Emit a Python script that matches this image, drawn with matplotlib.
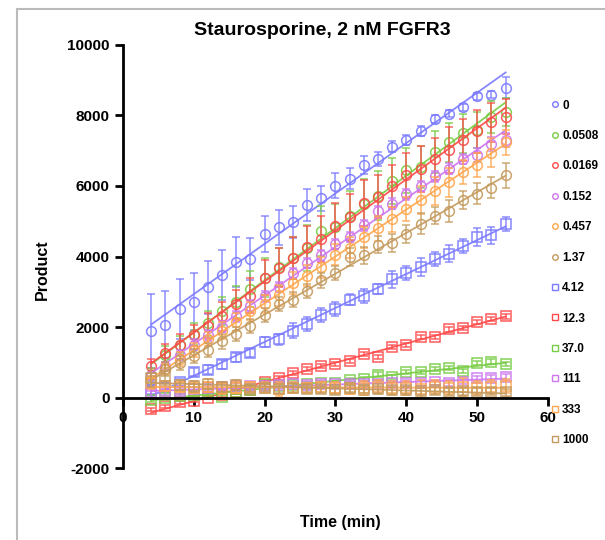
import numpy as np
import matplotlib
matplotlib.use("Agg")
import matplotlib.pyplot as plt
from matplotlib.patches import Rectangle

plt.rcParams["font.family"] = ["Liberation Sans", "DejaVu Sans"]
plt.rcParams["font.weight"] = "bold"
plt.rcParams["axes.unicode_minus"] = False

# === Daten ===
time = [4, 6, 8, 10, 12, 14, 16, 18, 20, 22, 24, 26, 28, 30, 32, 34, 36, 38, 40, 42, 44, 46, 48, 50, 52, 54]

labels = ["0", "0.0508", "0.0169", "0.152", "0.457", "1.37",
          "4.12", "12.3", "37.0", "111", "333", "1000"]

c_0 = [1880, 2070, 2500, 2720, 3130, 3480, 3840, 3930, 4640, 4830, 4970, 5470, 5650,
       6010, 6210, 6600, 6770, 7120, 7310, 7560, 7900, 8050, 8240, 8540, 8590, 8790]
e_0 = [1050, 950, 850, 800, 750, 700, 700, 600, 500, 500, 450, 450, 350,
       350, 300, 250, 200, 150, 150, 150, 100, 100, 100, 100, 100, 300]

c_0508 = [650, 1200, 1500, 1800, 2100, 2450, 2700, 3080, 3400, 3700, 3950, 4250, 4720,
          4850, 5150, 5490, 5730, 6140, 6440, 6540, 6960, 7240, 7500, 7590, 7950, 8090]
e_0508 = [200, 250, 250, 300, 350, 400, 450, 500, 550, 550, 600, 650, 700,
          650, 700, 700, 700, 650, 650, 600, 600, 550, 550, 500, 450, 400]

c_0169 = [890, 1260, 1500, 1760, 2040, 2300, 2640, 2890, 3400, 3680, 3950, 4260, 4500,
          4860, 5130, 5520, 5700, 6000, 6300, 6490, 6770, 7030, 7310, 7550, 7810, 7970]
e_0169 = [200, 250, 300, 300, 350, 400, 400, 500, 500, 550, 600, 600, 650,
          650, 650, 650, 600, 600, 650, 650, 600, 650, 600, 600, 550, 500]

c_152 = [620, 890, 1220, 1500, 1760, 2010, 2300, 2610, 2870, 3130, 3530, 3810, 4030,
         4360, 4550, 4880, 5290, 5500, 5760, 6000, 6270, 6490, 6770, 6870, 7190, 7310]
e_152 = [100, 120, 120, 150, 150, 150, 150, 150, 150, 150, 150, 150, 150,
         150, 150, 150, 150, 150, 150, 150, 150, 150, 150, 200, 200, 200]

c_457 = [450, 800, 1100, 1350, 1650, 1900, 2150, 2450, 2650, 2900, 3250, 3450, 3700,
         4050, 4250, 4550, 4800, 5050, 5350, 5600, 5850, 6100, 6400, 6600, 6950, 7240]
e_457 = [150, 150, 200, 200, 200, 250, 250, 250, 250, 300, 300, 300, 300,
         300, 300, 300, 350, 350, 350, 400, 400, 400, 350, 350, 400, 350]

c_137 = [500, 800, 980, 1190, 1360, 1590, 1810, 2040, 2330, 2660, 2780, 3020, 3320,
         3530, 3980, 4030, 4340, 4390, 4640, 4930, 5160, 5290, 5610, 5780, 5950, 6300]
e_137 = [200, 200, 200, 200, 200, 200, 200, 200, 200, 200, 200, 200, 200,
         200, 250, 250, 250, 250, 250, 300, 250, 300, 250, 300, 300, 350]

s_412 = [200, 300, 430, 720, 790, 940, 1140, 1270, 1570, 1650, 1900, 2090, 2330,
         2520, 2780, 2890, 3080, 3350, 3530, 3700, 3930, 4080, 4290, 4550, 4600, 4930]
se_412 = [100, 100, 100, 120, 120, 120, 120, 120, 150, 150, 200, 200, 200,
          200, 150, 200, 150, 250, 200, 250, 200, 250, 200, 250, 250, 200]

s_123 = [-340, -250, -140, -90, 0, 60, 150, 200, 430, 560, 690, 810, 890,
         940, 1030, 1240, 1160, 1430, 1500, 1710, 1710, 1930, 1980, 2140, 2230, 2300]
se_123 = [50, 50, 50, 50, 50, 50, 50, 50, 60, 60, 60, 60, 60,
          60, 60, 60, 60, 60, 60, 60, 60, 60, 60, 60, 60, 60]

s_370 = [-60, -20, 50, 80, 100, 10, 150, 200, 370, 330, 350, 370, 400,
         410, 500, 530, 650, 580, 720, 720, 800, 830, 750, 985, 1020, 940]
se_370 = [60, 60, 60, 60, 60, 60, 60, 60, 60, 60, 60, 60, 60,
          60, 60, 60, 60, 60, 60, 60, 60, 60, 60, 60, 60, 60]

s_111 = [100, 150, 180, 230, 270, 300, 320, 330, 320, 350, 370, 360, 380,
         370, 390, 380, 380, 400, 420, 420, 430, 420, 450, 540, 560, 580]
se_111 = [80, 80, 80, 80, 80, 80, 80, 80, 80, 80, 80, 80, 80,
          80, 80, 80, 80, 80, 80, 80, 80, 80, 80, 80, 80, 80]

s_333 = [400, 330, 300, 280, 300, 260, 280, 300, 280, 250, 280, 270, 300,
         280, 250, 270, 300, 260, 280, 250, 300, 260, 300, 280, 300, 330]
se_333 = [150, 150, 150, 150, 150, 150, 150, 150, 150, 200, 150, 150, 150,
          150, 150, 200, 200, 200, 200, 250, 200, 200, 250, 200, 200, 200]

s_1000 = [550, 600, 350, 320, 380, 300, 350, 250, 280, 230, 270, 250, 230,
          200, 260, 220, 240, 200, 210, 180, 200, 170, 180, 160, 170, 150]
se_1000 = [250, 250, 150, 150, 150, 150, 150, 100, 100, 100, 100, 100, 100,
           100, 100, 100, 100, 100, 100, 100, 100, 100, 100, 100, 100, 100]

values = [c_0, c_0508, c_0169, c_152, c_457, c_137,
          s_412, s_123, s_370, s_111, s_333, s_1000]
errors = [e_0, e_0508, e_0169, e_152, e_457, e_137,
          se_412, se_123, se_370, se_111, se_333, se_1000]

BLAU, GRUEN, ROT, LILA, ORANGE, BRAUN = "#7a7aff", "#77cc44", "#ff4a4a", "#cc77ee", "#ffa64d", "#c49a5e"
colors = [BLAU, GRUEN, ROT, LILA, ORANGE, BRAUN,
          BLAU, ROT, GRUEN, LILA, ORANGE, BRAUN]
markers = ["o"] * 6 + ["s"] * 6

# === Grafik ===
fig = plt.figure(figsize=(6.05, 5.4), dpi=100)
ax = fig.add_axes([0.203, 0.1333, 0.703, 0.7834])

t = np.array(time)
for i in range(len(values)):
    y = np.array(values[i])
    ax.errorbar(t, y, yerr=errors[i], fmt="none", ecolor=colors[i],
                elinewidth=1.1, capsize=3, capthick=1.1, alpha=0.85)
    ax.plot(t, y, ls="none", marker=markers[i], ms=7, mfc="none",
            mec=colors[i], mew=1.1, alpha=0.9)
    k, d = np.polyfit(t, y, 1)
    ax.plot(t, k * t + d, color=colors[i], lw=1.3, alpha=0.9)
    # Legenden-Eintrag
    ax.plot([], [], ls="none", marker=markers[i], ms=4, mfc="none",
            mec=colors[i], mew=1.0, label=labels[i])

ax.set_xlim(0, 60)
ax.set_ylim(-2000, 10000)
ax.set_xticks(range(0, 61, 10))
ax.set_yticks(range(-2000, 10001, 2000))
ax.spines["top"].set_visible(False)
ax.spines["right"].set_visible(False)
ax.spines["bottom"].set_position(("data", 0))
ax.spines["left"].set_linewidth(2)
ax.spines["bottom"].set_linewidth(2)
ax.tick_params(direction="out", length=6, width=2, labelsize=11)
for lab in ax.get_xticklabels() + ax.get_yticklabels():
    lab.set_fontweight("bold")

fig.text(0.532, 0.943, "Staurosporine, 2 nM FGFR3", ha="center", va="center",
         fontsize=14, fontweight="bold")
fig.text(0.562, 0.033, "Time (min)", ha="center", va="center",
         fontsize=11.5, fontweight="bold")
fig.text(0.07, 0.5, "Product", ha="center", va="center", rotation=90,
         fontsize=11.5, fontweight="bold")

ax.legend(loc="upper left", bbox_to_anchor=(0.997, 0.882), frameon=False,
          handlelength=0.6, handletextpad=0.3, labelspacing=1.56,
          prop={"size": 8.5, "weight": "bold"}, borderaxespad=0)

# grauer Rahmen
fig.patches.append(Rectangle((17 / 605, -0.05), 1.1, 0.05 + 1 - 9 / 540,
                             transform=fig.transFigure, fill=False,
                             edgecolor="#bbbbbb", lw=1.5))

fig.savefig("out.png", dpi=100)
